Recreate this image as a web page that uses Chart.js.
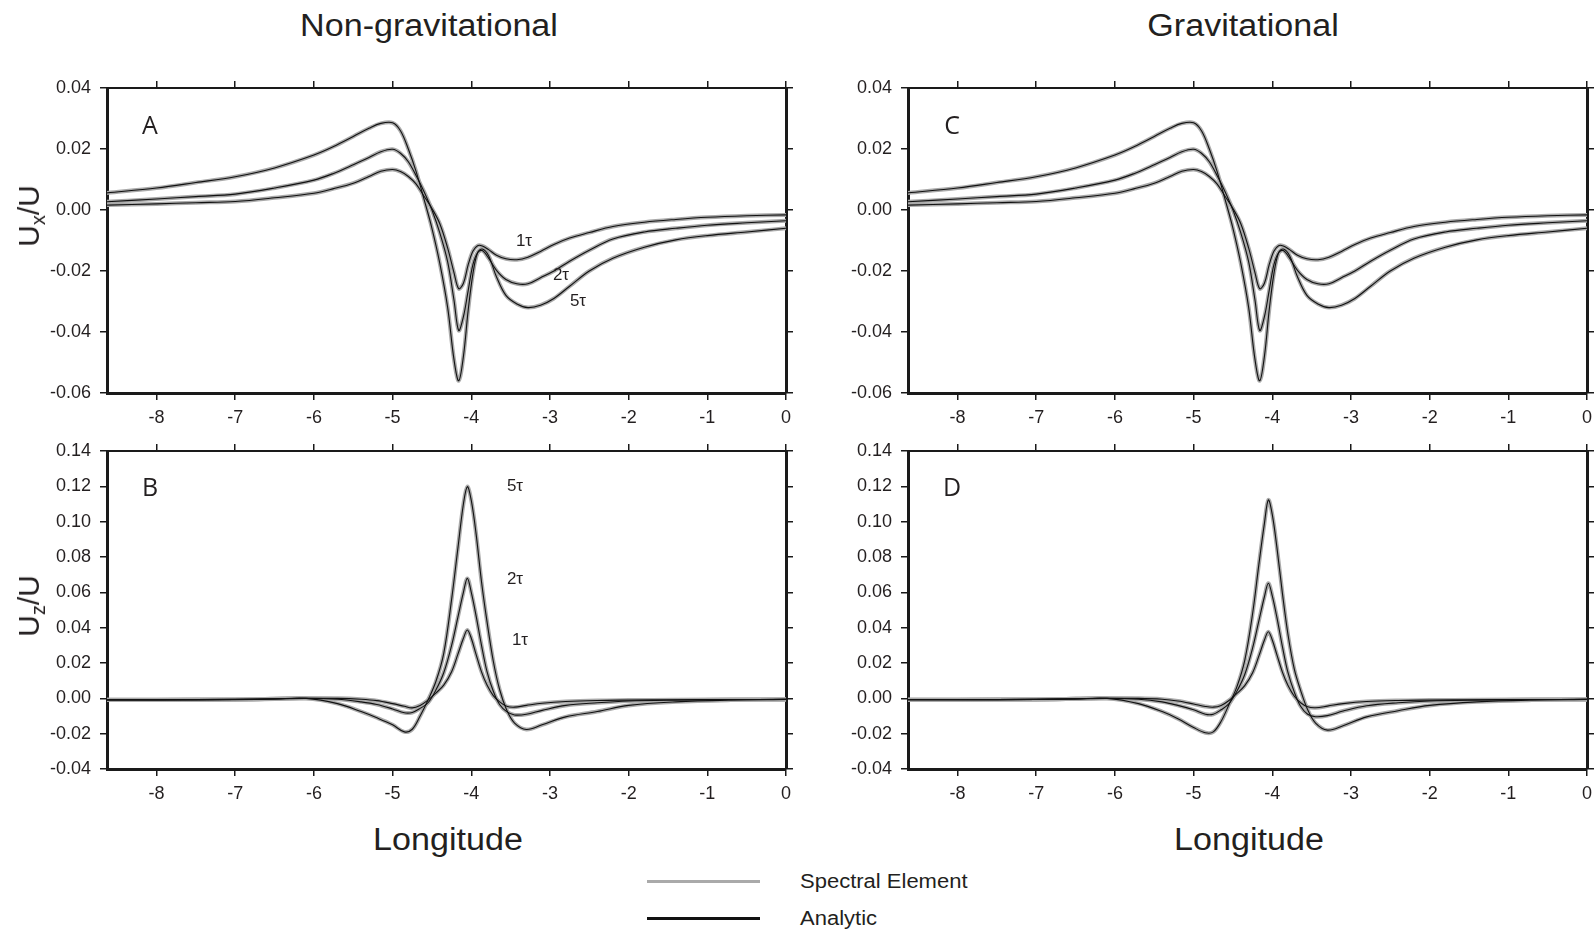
<!DOCTYPE html>
<html>
<head>
<meta charset="utf-8">
<script src="https://cdn.jsdelivr.net/npm/chart.js@4.4.0/dist/chart.umd.min.js"></script>
<style>
  body { margin: 0; background: #fff; width: 1595px; height: 931px; position: relative; overflow: hidden;
         font-family: "Liberation Sans", Arial, sans-serif; color: #231f20; }
  canvas { position: absolute; }
  .t { position: absolute; white-space: nowrap; transform: translate(-50%, -50%); }
  .l { position: absolute; white-space: nowrap; transform: translate(0, -50%) scaleX(1.1); transform-origin: 0 50%; }
  .big { font-size: 31px; transform: translate(-50%, -50%) scaleX(1.1); }
  .ylab { font-size: 30px; transform: translate(-50%, -50%) rotate(-90deg); }
  .ylab sub { font-size: 20px; vertical-align: -6px; }
  .pan { font-family: "Open Sans", sans-serif; font-size: 25px; }
  .tau { font-size: 17px; }
  .leg { font-size: 20px; }
  .line { position: absolute; height: 3px; }
</style>
</head>
<body>
<canvas id="cA" width="780" height="355" style="left:20px;top:75px;width:780px;height:355px"></canvas>
<canvas id="cB" width="780" height="369" style="left:20px;top:438px;width:780px;height:369px"></canvas>
<canvas id="cC" width="774" height="355" style="left:821px;top:75px;width:774px;height:355px"></canvas>
<canvas id="cD" width="774" height="369" style="left:821px;top:438px;width:774px;height:369px"></canvas>

<div class="t big" style="left:429px;top:26px">Non-gravitational</div>
<div class="t big" style="left:1243px;top:26px">Gravitational</div>
<div class="t big" style="left:448px;top:840px">Longitude</div>
<div class="t big" style="left:1249px;top:840px">Longitude</div>
<div class="t ylab" style="left:31px;top:216px">U<sub>x</sub>/U</div>
<div class="t ylab" style="left:31px;top:606px">U<sub>z</sub>/U</div>

<div class="t pan" style="left:150px;top:124px">A</div>
<div class="t pan" style="left:150px;top:486px">B</div>
<div class="t pan" style="left:952px;top:124px">C</div>
<div class="t pan" style="left:952px;top:486px">D</div>

<div class="t tau" style="left:524px;top:241px">1τ</div>
<div class="t tau" style="left:561px;top:275px">2τ</div>
<div class="t tau" style="left:578px;top:301px">5τ</div>
<div class="t tau" style="left:515px;top:486px">5τ</div>
<div class="t tau" style="left:515px;top:579px">2τ</div>
<div class="t tau" style="left:520px;top:640px">1τ</div>

<div class="line" style="left:647px;top:880px;width:113px;background:#aaaaaa"></div>
<div class="line" style="left:647px;top:917px;width:113px;background:#111"></div>
<div class="l leg" style="left:800px;top:881px">Spectral Element</div>
<div class="l leg" style="left:800px;top:918px">Analytic</div>

<script>
// longitude samples for the horizontal (Ux/U) panels
const lonUx = [-8.63, -8, -7.5, -7, -6.5, -6, -5.75, -5.5, -5.3, -5.15, -5.0, -4.9, -4.8, -4.7, -4.6,
  -4.5, -4.4, -4.3, -4.22, -4.16, -4.1, -4.04, -3.98, -3.92, -3.86, -3.78, -3.68, -3.56, -3.42, -3.28,
  -3.12, -2.95, -2.75, -2.5, -2.2, -1.8, -1.4, -1.0, -0.5, 0];
const ux1 = [0.0016, 0.0020, 0.0024, 0.0028, 0.0040, 0.0055, 0.0070, 0.0088, 0.0110, 0.0127, 0.0133, 0.0126,
  0.0110, 0.0085, 0.0045, 0.0005, -0.0045, -0.0125, -0.0205, -0.0258, -0.0240, -0.0180, -0.0135, -0.0117,
  -0.0118, -0.0130, -0.0148, -0.0160, -0.0163, -0.0155, -0.0136, -0.0113, -0.0092, -0.0074, -0.0054,
  -0.0040, -0.0031, -0.0024, -0.0019, -0.0016];
const ux2 = [0.0027, 0.0036, 0.0044, 0.0052, 0.0072, 0.0098, 0.0120, 0.0148, 0.0172, 0.0191, 0.0199, 0.0186,
  0.0158, 0.0112, 0.0060, 0.0000, -0.0075, -0.0170, -0.0295, -0.0395, -0.0350, -0.0265, -0.0180, -0.0140,
  -0.0133, -0.0158, -0.0198, -0.0228, -0.0242, -0.0242, -0.0222, -0.0200, -0.0168, -0.0132, -0.0095,
  -0.0072, -0.0060, -0.0050, -0.0042, -0.0035];
const ux5 = [0.0056, 0.0072, 0.0090, 0.0109, 0.0138, 0.0180, 0.0208, 0.0241, 0.0268, 0.0284, 0.0286, 0.0260,
  0.0200, 0.0125, 0.0035, -0.0060, -0.0175, -0.0320, -0.0490, -0.0560, -0.0480, -0.0330, -0.0210, -0.0140,
  -0.0128, -0.0150, -0.0219, -0.0280, -0.0308, -0.0320, -0.0312, -0.0290, -0.0250, -0.0200, -0.0158,
  -0.0122, -0.0098, -0.0084, -0.0072, -0.0060];
// gravitational Ux looks the same as non-gravitational in the figure
const uxG1 = ux1, uxG2 = ux2, uxG5 = ux5;

// longitude samples for the vertical (Uz/U) panels
const lonUz = [-8.63, -8, -7, -6.5, -6.1, -5.7, -5.4, -5.2, -5.0, -4.85, -4.75, -4.65, -4.55, -4.45, -4.35,
  -4.25, -4.17, -4.1, -4.05, -4.0, -3.94, -3.87, -3.8, -3.72, -3.64, -3.55, -3.45, -3.3, -3.1, -2.8,
  -2.4, -2.0, -1.4, -0.7, 0];
const uz1 = [-0.0008, -0.0008, -0.0006, -0.0003, 0.0000, 0.0000, -0.0005, -0.0013, -0.0030, -0.0045, -0.0054,
  -0.0040, -0.0010, 0.0030, 0.0075, 0.0151, 0.0250, 0.0340, 0.0387, 0.0340, 0.0250, 0.0150, 0.0075, 0.0015,
  -0.0020, -0.0045, -0.0050, -0.0040, -0.0028, -0.0018, -0.0012, -0.0010, -0.0008, -0.0007, -0.0006];
const uz2 = [-0.0008, -0.0008, -0.0006, -0.0003, 0.0000, -0.0005, -0.0020, -0.0035, -0.0060, -0.0082, -0.0080,
  -0.0057, -0.0025, 0.0047, 0.0145, 0.0300, 0.0460, 0.0600, 0.0679, 0.0600, 0.0470, 0.0300, 0.0151, 0.0040,
  -0.0035, -0.0075, -0.0094, -0.0090, -0.0068, -0.0040, -0.0025, -0.0015, -0.0010, -0.0007, -0.0006];
const uz5 = [-0.0010, -0.0010, -0.0008, -0.0004, 0.0000, -0.0030, -0.0075, -0.0110, -0.0150, -0.0190, -0.0175,
  -0.0100, -0.0010, 0.0095, 0.0255, 0.0560, 0.0850, 0.1100, 0.1198, 0.1120, 0.0935, 0.0660, 0.0434, 0.0210,
  0.0050, -0.0066, -0.0140, -0.0176, -0.0150, -0.0105, -0.0075, -0.0040, -0.0020, -0.0010, -0.0006];
const uzG1 = [-0.0008, -0.0008, -0.0006, -0.0003, 0.0000, 0.0000, -0.0005, -0.0015, -0.0032, -0.0046, -0.0050,
  -0.0040, -0.0012, 0.0028, 0.0072, 0.0145, 0.0240, 0.0330, 0.0377, 0.0330, 0.0245, 0.0147, 0.0072, 0.0012,
  -0.0025, -0.0048, -0.0053, -0.0044, -0.0030, -0.0018, -0.0012, -0.0010, -0.0008, -0.0007, -0.0006];
const uzG2 = [-0.0008, -0.0008, -0.0006, -0.0003, 0.0000, -0.0005, -0.0020, -0.0040, -0.0065, -0.0090, -0.0090,
  -0.0065, -0.0030, 0.0040, 0.0135, 0.0285, 0.0440, 0.0575, 0.0651, 0.0580, 0.0455, 0.0290, 0.0145, 0.0035,
  -0.0045, -0.0090, -0.0104, -0.0098, -0.0072, -0.0042, -0.0025, -0.0015, -0.0010, -0.0007, -0.0006];
const uzG5 = [-0.0008, -0.0008, -0.0006, -0.0003, 0.0000, -0.0030, -0.0075, -0.0115, -0.0165, -0.0195, -0.0190,
  -0.0130, -0.0035, 0.0065, 0.0215, 0.0480, 0.0760, 0.0990, 0.1123, 0.1040, 0.0850, 0.0590, 0.0360, 0.0165,
  0.0045, -0.0065, -0.0140, -0.0180, -0.0155, -0.0105, -0.0070, -0.0040, -0.0020, -0.0010, -0.0006];

const lonTicks = [-8, -7, -6, -5, -4, -3, -2, -1, 0];
const uxTicks = [-0.06, -0.04, -0.02, 0, 0.02, 0.04];
const uzTicks = [-0.04, -0.02, 0, 0.02, 0.04, 0.06, 0.08, 0.10, 0.12, 0.14];
const lonMin = -8.63, lonMax = 0;

const ink = '#1a1a1a';
const tickFont = { family: '"Liberation Sans", Arial, sans-serif', size: 18 };

function axis(pos, min, max, ticks, labels, bw, size, fmt) {
  return {
    type: 'linear', position: pos, min: min, max: max, bounds: 'data',
    afterBuildTicks: s => { s.ticks = ticks.map(v => ({ value: v })); },
    afterFit: s => {
      // fixed box sizes so the plot frames line up; no extra label padding
      if (s.isHorizontal()) { s.height = size; s.paddingLeft = 0; s.paddingRight = 0; }
      else { s.width = size; s.paddingTop = 0; s.paddingBottom = 0; }
    },
    grid: { drawOnChartArea: false, drawTicks: true, tickLength: 7, color: ink, lineWidth: 1.5 },
    border: { display: true, color: ink, width: bw },
    ticks: { display: labels, color: '#231f20', font: tickFont, padding: pos === 'left' ? 9 : 7,
             maxRotation: 0, autoSkip: false, callback: fmt }
  };
}

function panel(id, lon, series, yMin, yMax, yTicks, rightSize) {
  const datasets = [];
  series.forEach(s => {
    datasets.push({ label: 'Analytic', data: lon.map((x, i) => ({ x: x, y: s[i] })),
      borderColor: '#111', borderWidth: 1.1, order: 0 });
    datasets.push({ label: 'Spectral Element', data: lon.map((x, i) => ({ x: x, y: s[i] })),
      borderColor: '#aaaaaa', borderWidth: 4, order: 1 });
  });
  const c = document.getElementById(id);
  const bottom = c.height - (id === 'cA' || id === 'cC' ? 305 : 318) - 13;
  new Chart(c.getContext('2d'), {
    type: 'line',
    data: { datasets: datasets },
    options: {
      responsive: false, animation: false, devicePixelRatio: 1,
      layout: { padding: 0 },
      elements: { point: { radius: 0 }, line: { tension: 0.35 } },
      plugins: { legend: { display: false }, tooltip: { enabled: false } },
      scales: {
        x: axis('bottom', lonMin, lonMax, lonTicks, true, 3, bottom, v => String(v)),
        xTop: axis('top', lonMin, lonMax, lonTicks, false, 2, 13),
        y: axis('left', yMin, yMax, yTicks, true, 3, 87, v => v.toFixed(2)),
        yRight: axis('right', yMin, yMax, yTicks, false, 3, rightSize)
      }
    }
  });
}

panel('cA', lonUx, [ux1, ux2, ux5], -0.06, 0.04, uxTicks, 14);
panel('cB', lonUz, [uz1, uz2, uz5], -0.04, 0.14, uzTicks, 14);
panel('cC', lonUx, [uxG1, uxG2, uxG5], -0.06, 0.04, uxTicks, 8);
panel('cD', lonUz, [uzG1, uzG2, uzG5], -0.04, 0.14, uzTicks, 8);
</script>
</body>
</html>
